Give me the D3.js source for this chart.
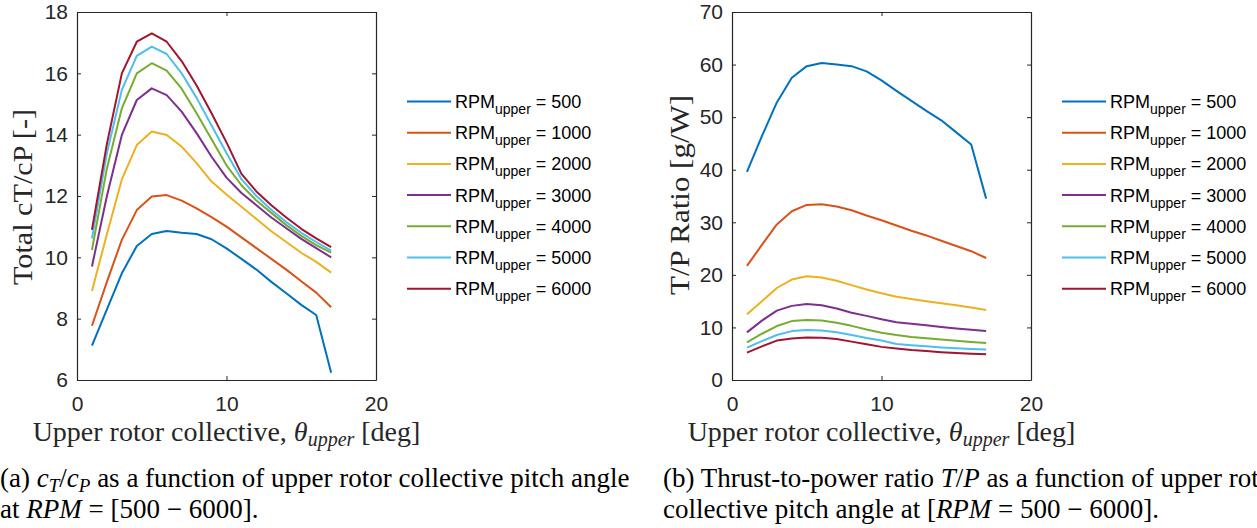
<!DOCTYPE html>
<html>
<head>
<meta charset="utf-8">
<script src="https://cdn.jsdelivr.net/npm/d3@7"></script>
<style>
  body { margin: 0; background: #fff; overflow: hidden; }
  svg { display: block; }
  .tick text { font-family: "Liberation Sans", Arial, sans-serif; font-size: 21px; fill: #262626; }
  .axis path, .axis line { stroke: #262626; }
  .lbl { font-family: "Liberation Serif", "Times New Roman", serif; fill: #262626; }
  .leg { font-family: "Liberation Sans", Arial, sans-serif; font-size: 18px; fill: #000; }
  .cap { font-family: "Liberation Serif", "Times New Roman", serif; font-size: 27px; fill: #000; }
</style>
</head>
<body>
<svg width="1257" height="528"></svg>
<script>
let svg = d3.select("svg");

// collective pitch angle (deg)
let theta = [1, 2, 3, 4, 5, 6, 7, 8, 9, 10, 11, 12, 13, 14, 15, 16, 17];

let rpmLabels = ["500", "1000", "2000", "3000", "4000", "5000", "6000"];
let colors = ["#0072BD", "#D95319", "#EDB120", "#7E2F8E", "#77AC30", "#4DBEEE", "#A2142F"];

// (a) total cT/cP
let ctcp500  = [7.12, 8.3, 9.48, 10.37, 10.76, 10.86, 10.8, 10.76, 10.59, 10.29, 9.95, 9.6, 9.2, 8.83, 8.45, 8.12, 6.24];
let ctcp1000 = [7.77, 9.2, 10.57, 11.54, 11.98, 12.03, 11.85, 11.6, 11.31, 11.0, 10.65, 10.3, 9.95, 9.6, 9.22, 8.85, 8.37];
let ctcp2000 = [8.9, 10.75, 12.54, 13.66, 14.1, 13.99, 13.61, 13.07, 12.47, 12.05, 11.65, 11.25, 10.85, 10.5, 10.15, 9.85, 9.5];
let ctcp3000 = [9.7, 12.0, 13.99, 15.13, 15.51, 15.29, 14.75, 14.05, 13.28, 12.6, 12.1, 11.7, 11.3, 10.95, 10.6, 10.3, 10.0];
let ctcp4000 = [10.24, 12.9, 14.86, 16.0, 16.33, 16.09, 15.5, 14.7, 13.85, 13.0, 12.35, 11.85, 11.45, 11.05, 10.7, 10.4, 10.15];
let ctcp5000 = [10.62, 13.4, 15.46, 16.57, 16.87, 16.63, 16.0, 15.2, 14.3, 13.4, 12.55, 12.0, 11.55, 11.15, 10.8, 10.5, 10.22];
let ctcp6000 = [10.9, 13.7, 16.0, 17.03, 17.3, 17.03, 16.4, 15.6, 14.7, 13.75, 12.72, 12.15, 11.7, 11.3, 10.93, 10.62, 10.33];

// (b) T/P ratio [g/W]
let tp500  = [39.6, 46.4, 52.8, 57.5, 59.7, 60.3, 60.0, 59.7, 58.7, 57.0, 55.0, 53.1, 51.2, 49.4, 47.1, 44.8, 34.5];
let tp1000 = [21.7, 25.7, 29.6, 32.1, 33.3, 33.45, 33.0, 32.3, 31.3, 30.4, 29.4, 28.4, 27.5, 26.5, 25.5, 24.5, 23.2];
let tp2000 = [12.5, 15.0, 17.5, 19.1, 19.75, 19.5, 18.87, 18.05, 17.2, 16.5, 15.83, 15.4, 15.0, 14.6, 14.2, 13.8, 13.3];
let tp3000 = [9.06, 11.3, 13.2, 14.1, 14.45, 14.2, 13.6, 12.8, 12.2, 11.55, 11.0, 10.7, 10.4, 10.1, 9.8, 9.55, 9.3];
let tp4000 = [7.15, 8.8, 10.26, 11.2, 11.4, 11.3, 10.9, 10.3, 9.6, 9.0, 8.55, 8.2, 7.95, 7.7, 7.45, 7.25, 7.05];
let tp5000 = [6.15, 7.4, 8.55, 9.3, 9.5, 9.4, 9.1, 8.55, 8.0, 7.5, 6.85, 6.6, 6.4, 6.2, 6.05, 5.9, 5.8];
let tp6000 = [5.2, 6.4, 7.5, 7.9, 8.1, 8.05, 7.8, 7.3, 6.8, 6.3, 6.0, 5.7, 5.5, 5.3, 5.15, 5.0, 4.88];

let xTicks = [0, 10, 20];
let ctcpTicks = [6, 8, 10, 12, 14, 16, 18];
let tpTicks = [0, 10, 20, 30, 40, 50, 60, 70];

function drawPanel(opts) {
    let x = d3.scaleLinear().domain([0, 20]).range([opts.left, opts.left + 299]);
    let y = d3.scaleLinear().domain(opts.yDomain).range([380, 12]);
    let g = svg.append("g");

    // ticks point inward, MATLAB box style
    g.append("g").attr("class", "axis").attr("transform", "translate(0,380)")
        .call(d3.axisBottom(x).tickValues(xTicks).tickSizeInner(-4).tickSizeOuter(0).tickPadding(16));
    g.append("g").attr("class", "axis").attr("transform", "translate(0,12)")
        .call(d3.axisTop(x).tickValues(xTicks).tickSizeInner(-4).tickSizeOuter(0).tickFormat(""));
    g.append("g").attr("class", "axis").attr("transform", "translate(" + x(0) + ",0)")
        .call(d3.axisLeft(y).tickValues(opts.yTicks).tickSizeInner(-4).tickSizeOuter(0).tickPadding(9));
    g.append("g").attr("class", "axis").attr("transform", "translate(" + x(20) + ",0)")
        .call(d3.axisRight(y).tickValues(opts.yTicks).tickSizeInner(-4).tickSizeOuter(0).tickFormat(""));
    g.selectAll(".axis .domain").attr("stroke-width", 1.2);

    let line = d3.line().x(function (d, i) { return x(theta[i]); }).y(function (d) { return y(d); });
    g.selectAll("path.series")
        .data(opts.series)
        .enter().append("path")
        .attr("class", "series")
        .attr("d", line)
        .attr("fill", "none")
        .attr("stroke", function (d, i) { return colors[i]; })
        .attr("stroke-width", 2)
        .attr("stroke-linejoin", "round");

    // y label
    g.append("text").attr("class", "lbl")
        .attr("transform", "translate(" + opts.yLabelX + "," + opts.yLabelY + ") rotate(-90)")
        .attr("text-anchor", "middle")
        .style("font-size", "27px")
        .attr("textLength", opts.yLabelLen).attr("lengthAdjust", "spacingAndGlyphs")
        .text(opts.yLabel);

    // x label
    let xl = g.append("text").attr("class", "lbl")
        .attr("x", (x(0) + x(20)) / 2).attr("y", 441)
        .attr("text-anchor", "middle")
        .style("font-size", "28px");
    xl.append("tspan").text("Upper rotor collective, ");
    xl.append("tspan").style("font-style", "italic").text("θ");
    xl.append("tspan").style("font-style", "italic").style("font-size", "20px").attr("dy", 5).text("upper");
    xl.append("tspan").attr("dy", -5).text(" [deg]");

    // legend
    let leg = g.append("g").attr("transform", "translate(" + opts.legX + ",0)");
    rpmLabels.forEach(function (r, i) {
        let ly = 101.5 + i * 31.2;
        leg.append("line").attr("x1", 0).attr("x2", 44).attr("y1", ly).attr("y2", ly)
            .attr("stroke", colors[i]).attr("stroke-width", 2);
        let t = leg.append("text").attr("class", "leg").attr("x", 48).attr("y", ly + 6.5);
        t.append("tspan").text("RPM");
        t.append("tspan").style("font-size", "14px").attr("dy", 6).text("upper");
        t.append("tspan").attr("dy", -6).text(" = " + r);
    });
}

drawPanel({
    left: 77,
    yDomain: [6, 18],
    yTicks: ctcpTicks,
    series: [ctcp500, ctcp1000, ctcp2000, ctcp3000, ctcp4000, ctcp5000, ctcp6000],
    yLabelX: 32, yLabelY: 197, yLabelLen: 176,
    yLabel: "Total cT/cP [-]",
    legX: 407
});

drawPanel({
    left: 732,
    yDomain: [0, 70],
    yTicks: tpTicks,
    series: [tp500, tp1000, tp2000, tp3000, tp4000, tp5000, tp6000],
    yLabelX: 689, yLabelY: 195, yLabelLen: 200,
    yLabel: "T/P Ratio [g/W]",
    legX: 1062
});

// captions
let c1 = svg.append("text").attr("class", "cap").attr("x", 0).attr("y", 487);
c1.append("tspan").text("(a) ");
c1.append("tspan").style("font-style", "italic").text("c");
c1.append("tspan").style("font-style", "italic").style("font-size", "19px").attr("dy", 5).text("T");
c1.append("tspan").attr("dy", -5).text("/");
c1.append("tspan").style("font-style", "italic").text("c");
c1.append("tspan").style("font-style", "italic").style("font-size", "19px").attr("dy", 5).text("P");
c1.append("tspan").attr("dy", -5).text(" as a function of upper rotor collective pitch angle");
let c2 = svg.append("text").attr("class", "cap").attr("x", 0).attr("y", 518);
c2.append("tspan").text("at ");
c2.append("tspan").style("font-style", "italic").text("RPM");
c2.append("tspan").text(" = [500 − 6000].");

let c3 = svg.append("text").attr("class", "cap").attr("x", 663).attr("y", 487);
c3.append("tspan").text("(b) Thrust-to-power ratio ");
c3.append("tspan").style("font-style", "italic").text("T");
c3.append("tspan").text("/");
c3.append("tspan").style("font-style", "italic").text("P");
c3.append("tspan").text(" as a function of upper rotor");
let c4 = svg.append("text").attr("class", "cap").attr("x", 663).attr("y", 518);
c4.append("tspan").text("collective pitch angle at [");
c4.append("tspan").style("font-style", "italic").text("RPM");
c4.append("tspan").text(" = 500 − 6000].");
</script>
</body>
</html>
